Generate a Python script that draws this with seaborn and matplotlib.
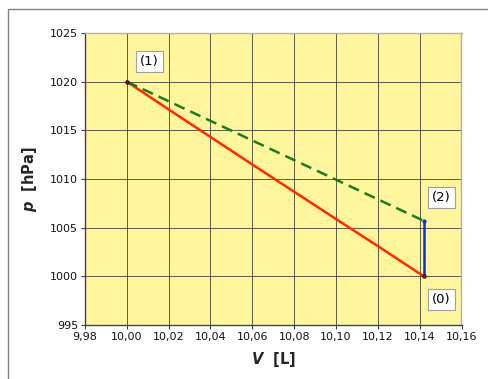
import numpy as np
import pandas as pd
import matplotlib.pyplot as plt
import seaborn as sns
from matplotlib.patches import Rectangle

# Values
v_adiabat = [10.00, 10.02, 10.04, 10.06, 10.08, 10.10, 10.12, 10.142]
p_adiabat = [1020.0, 1017.15, 1014.32, 1011.49, 1008.69, 1005.89, 1003.11, 1000.0]

v_isotherm = [10.00, 10.142]
p_isotherm = [1020.0, 1005.7]

v_isochor = [10.142, 10.142]
p_isochor = [1000.0, 1005.7]

point_names = ["(1)", "(2)", "(0)"]
point_v = [10.0108, 10.1505, 10.1505]
point_p = [1022.1, 1008.1, 997.6]

x_ticks = [9.98, 10.00, 10.02, 10.04, 10.06, 10.08, 10.10, 10.12, 10.14, 10.16]
y_ticks = [995, 1000, 1005, 1010, 1015, 1020, 1025]

sns.set_style("white")
plt.rcParams['font.family'] = ['DejaVu Sans']

fig = plt.figure(figsize=(4.88, 3.79), dpi=100)
ax = fig.add_axes([85 / 488, 1 - 325 / 379, (461.5 - 85) / 488, (325 - 33) / 379])
ax.set_facecolor("#fff59d")

# outer frame of the chart
fig.patches.append(Rectangle((8 / 488, -0.1), 1.2, 1 - 9 / 379 + 0.1,
                             transform=fig.transFigure, fill=False,
                             edgecolor="#808080", linewidth=1.0))

adiabat = pd.DataFrame({"V": v_adiabat, "p": p_adiabat})
isotherm = pd.DataFrame({"V": v_isotherm, "p": p_isotherm})
isochor = pd.DataFrame({"V": v_isochor, "p": p_isochor})

sns.lineplot(data=adiabat, x="V", y="p", ax=ax, color="#ff2a00", linewidth=1.8,
             sort=False, estimator=None, zorder=3)
sns.lineplot(data=isotherm, x="V", y="p", ax=ax, color="#1a7d1a", linewidth=1.8,
             sort=False, estimator=None, linestyle=(0, (4.5, 2.5)), zorder=3)
sns.lineplot(data=isochor, x="V", y="p", ax=ax, color="#0b2fe0", linewidth=1.8,
             sort=False, estimator=None, zorder=4)

# small point markers at the state points
ax.scatter([v_adiabat[0], v_adiabat[-1]], [p_adiabat[0], p_adiabat[-1]], s=6, color="#a01010",
           edgecolor="black", linewidth=0.6, zorder=5)
ax.scatter([v_isochor[-1]], [p_isochor[-1]], s=4, color="#0b2fe0", zorder=5)

for name, v, p in zip(point_names, point_v, point_p):
    ax.text(v, p, name, ha="center", va="center", fontsize=9.5, color="black", zorder=6,
            bbox=dict(boxstyle="square,pad=0.3", fc="white", ec="#a0a0a0", lw=0.8))

ax.set_xlim(9.98, 10.16)
ax.set_ylim(995, 1025)
ax.set_xticks(x_ticks)
ax.set_yticks(y_ticks)
ax.set_xticklabels([f"{t:.2f}".replace(".", ",") for t in x_ticks])
ax.set_yticklabels([str(t) for t in y_ticks])
ax.tick_params(axis="both", labelsize=8, length=3, width=0.8, color="#404040", pad=2,
               direction="out", bottom=True, left=True, labelcolor="#111111")

ax.grid(True, color="#333333", linewidth=0.7, alpha=0.8)
ax.set_axisbelow(True)
for side in ["top", "right"]:
    ax.spines[side].set_color("#b0b0b0")
    ax.spines[side].set_linewidth(1.0)
for side in ["left", "bottom"]:
    ax.spines[side].set_color("#404060")
    ax.spines[side].set_linewidth(1.0)

ax.set_xlabel(r"$\boldsymbol{V}$  [L]", fontsize=10.5, fontweight="bold", labelpad=6)
ax.set_ylabel(r"$\boldsymbol{p}$  [hPa]", fontsize=10.5, fontweight="bold", labelpad=8)

fig.savefig("out.png", dpi=100)
